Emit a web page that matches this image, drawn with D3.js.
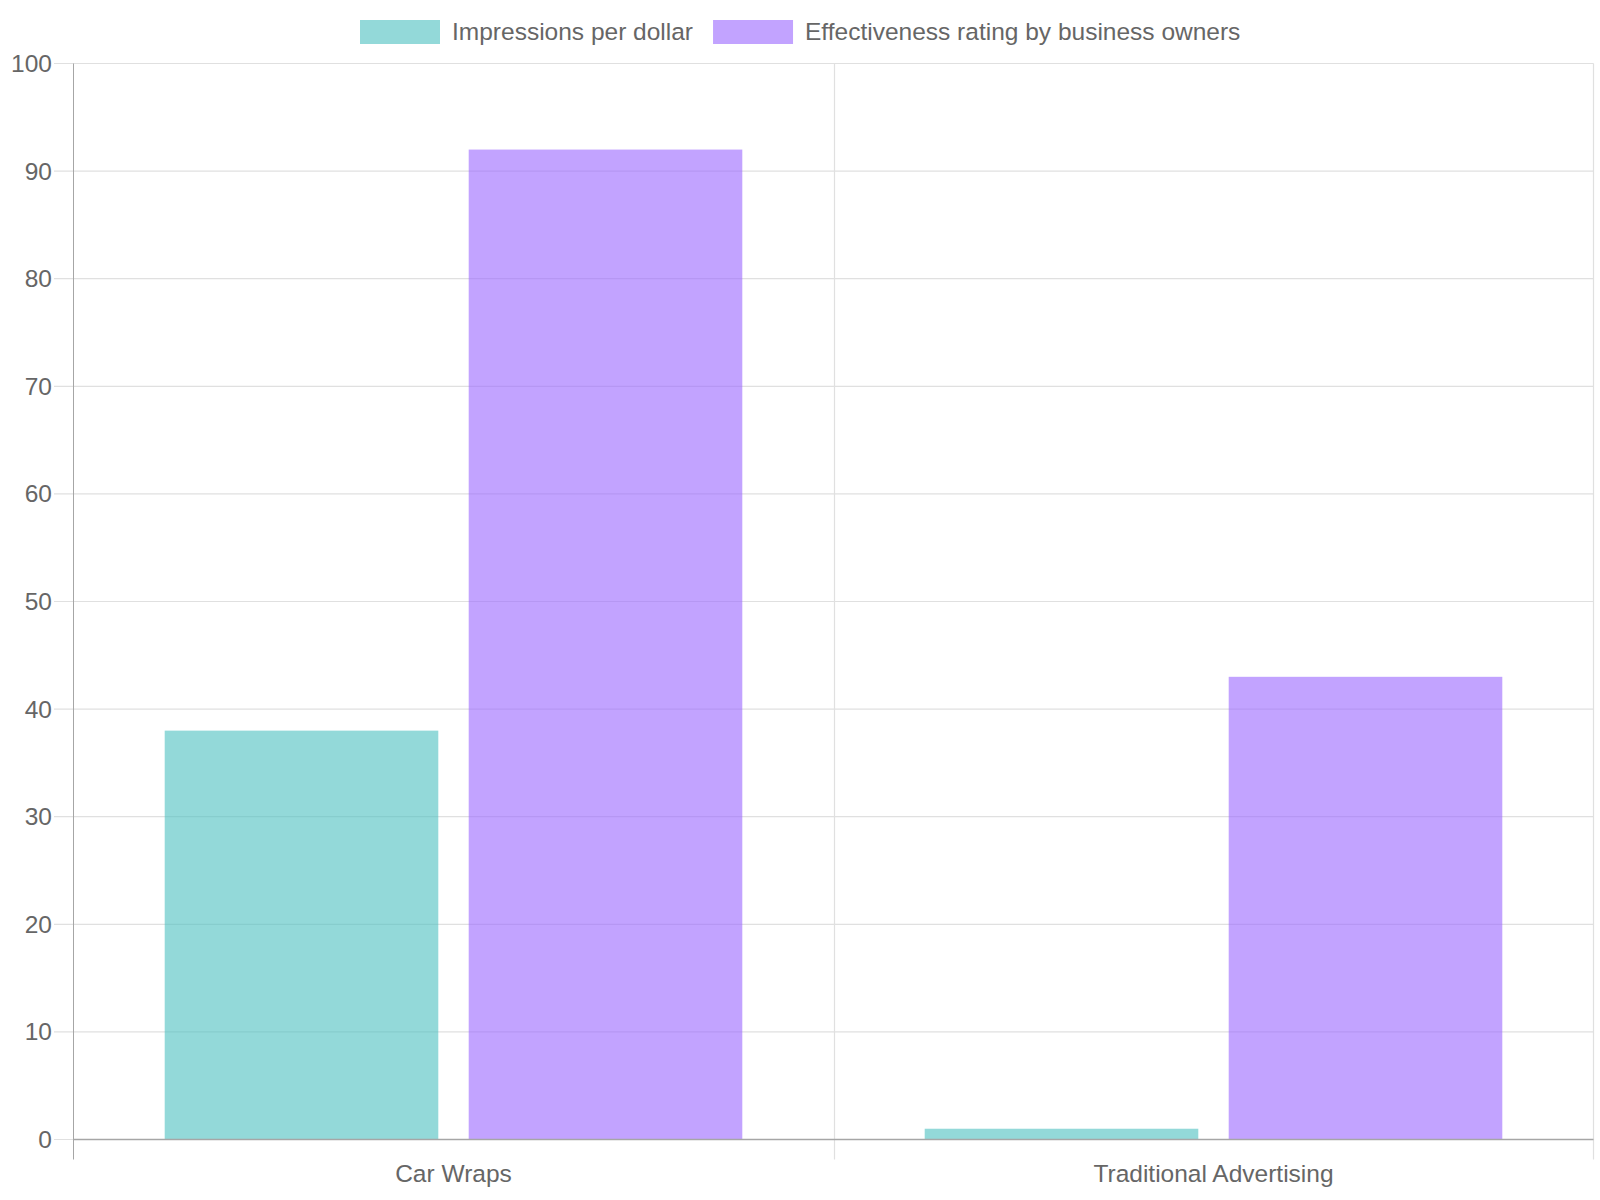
<!DOCTYPE html>
<html>
<head>
<meta charset="utf-8">
<script src="https://cdn.jsdelivr.net/npm/d3@7"></script>
<style>
  html, body { margin: 0; padding: 0; background: #fff; }
  svg { display: block; font-family: "Liberation Sans", Arial, sans-serif; }
</style>
</head>
<body>
<svg id="chart" width="1600" height="1200"></svg>
<script>
const categories = ["Car Wraps", "Traditional Advertising"];
const seriesNames = ["Impressions per dollar", "Effectiveness rating by business owners"];
const impressionsPerDollar = [38, 1];
const effectivenessRating = [92, 43];
const yTicks = [0, 10, 20, 30, 40, 50, 60, 70, 80, 90, 100];
const seriesColors = ["rgba(75,192,192,0.6)", "rgba(153,102,255,0.6)"];

(function () {
const seriesValues = [impressionsPerDollar, effectivenessRating];
const svg = d3.select("#chart");
const pLeft = 73.5, pRight = 1593.5, pTop = 63.5, pBottom = 1139.5;
const textColor = "#666";
const gridColor = "#e0e0e0";
const axisColor = "#a6a6a6";
const fs = 24.5;

const x = d3.scaleBand().domain(categories).range([pLeft, pRight]).paddingInner(0).paddingOuter(0);
const xInner = d3.scaleBand().domain(d3.range(seriesNames.length))
  .range([0, x.bandwidth() * 0.8]).paddingInner(0).paddingOuter(0);
const y = d3.scaleLinear().domain([0, 100]).range([pBottom, pTop]);

// horizontal gridlines + left ticks
yTicks.forEach(t => {
  svg.append("line").attr("x1", 54).attr("x2", pRight).attr("y1", y(t)).attr("y2", y(t))
    .attr("stroke", gridColor).attr("stroke-width", 1.2);
});
// vertical gridlines (category boundaries)
categories.forEach((c, i) => {
  if (i === 0) return;
  const bx = x(c);
  svg.append("line").attr("x1", Math.round(bx) + 0.5).attr("x2", Math.round(bx) + 0.5)
    .attr("y1", pTop).attr("y2", pBottom + 20).attr("stroke", gridColor).attr("stroke-width", 1.2);
});
svg.append("line").attr("x1", pRight).attr("x2", pRight)
  .attr("y1", pTop).attr("y2", pBottom + 20).attr("stroke", gridColor).attr("stroke-width", 1.2);

// bars
categories.forEach((c, ci) => {
  seriesValues.forEach((vals, si) => {
    const v = vals[ci];
    const slot = xInner.bandwidth();
    const bx = x(c) + x.bandwidth() * 0.1 + xInner(si) + slot * 0.05;
    svg.append("rect")
      .attr("x", bx).attr("width", slot * 0.9)
      .attr("y", y(v)).attr("height", y(0) - y(v))
      .attr("fill", seriesColors[si]);
  });
});

// axes lines
svg.append("line").attr("x1", pLeft).attr("x2", pLeft).attr("y1", pTop).attr("y2", pBottom + 20)
  .attr("stroke", axisColor).attr("stroke-width", 1);
svg.append("line").attr("x1", pLeft).attr("x2", pRight).attr("y1", pBottom).attr("y2", pBottom)
  .attr("stroke", axisColor).attr("stroke-width", 1.5);

// y tick labels
yTicks.forEach(t => {
  svg.append("text").attr("x", 52).attr("y", y(t)).attr("dy", "0.35em")
    .attr("text-anchor", "end").attr("font-size", fs).attr("fill", textColor).text(t);
});

// x labels
categories.forEach(c => {
  svg.append("text").attr("x", x(c) + x.bandwidth() / 2).attr("y", 1182)
    .attr("text-anchor", "middle").attr("font-size", fs).attr("fill", textColor).text(c);
});

// legend
const items = seriesNames.map((n, i) => {
  const g = svg.append("g");
  g.append("rect").attr("x", 0).attr("y", 20).attr("width", 80).attr("height", 24).attr("fill", seriesColors[i]);
  const t = g.append("text").attr("x", 92).attr("y", 31.5).attr("dy", "0.35em")
    .attr("font-size", fs).attr("fill", textColor).text(n);
  return { g, w: 92 + t.node().getComputedTextLength() };
});
const gap = 20;
let cx = 360;
items.forEach(it => { it.g.attr("transform", `translate(${cx},0)`); cx += it.w + gap; });
})();
</script>
</body>
</html>
